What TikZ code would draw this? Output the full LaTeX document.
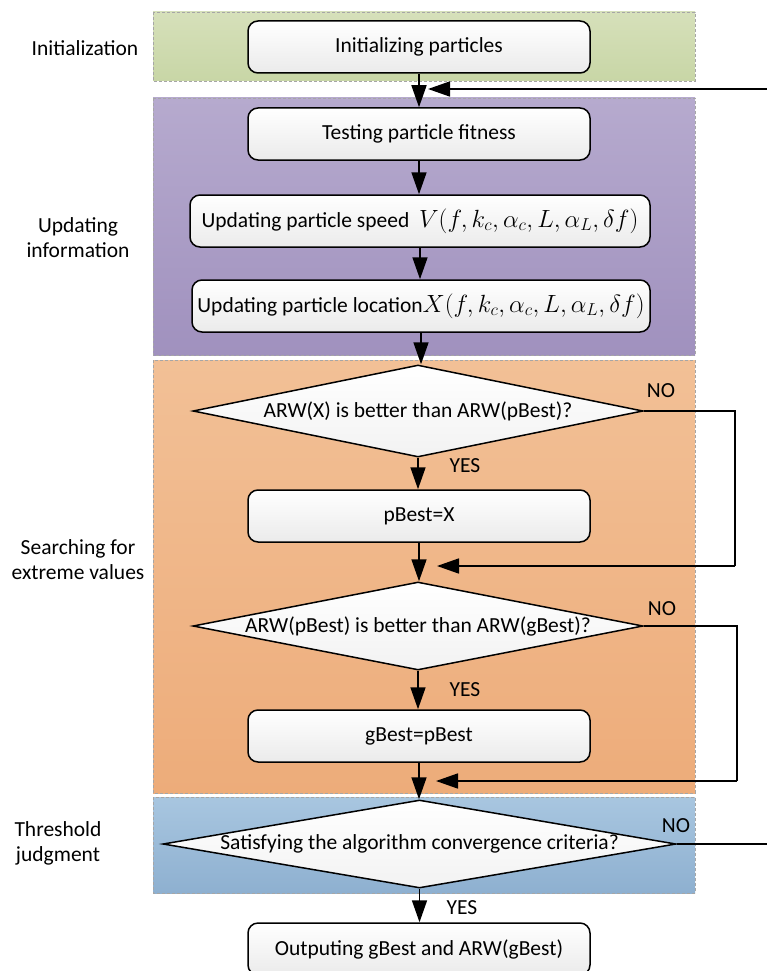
\documentclass[tikz,border=0pt]{standalone}
\usepackage{fontspec}
\setmainfont{Carlito}
\usetikzlibrary{shapes.geometric,arrows.meta}
\tikzset{
  fs/.style={font=\fontsize{21.5}{25}\selectfont},
  band/.style={draw=gray!70, dashed, dash pattern=on 3pt off 2pt, line width=0.8pt},
  rbox/.style={fs, rounded corners=10pt, draw, line width=1.5pt, top color=white, bottom color=gray!16, minimum height=52pt, inner sep=2pt},
  dia/.style={shape=diamond, draw, line width=1.5pt, top color=white, bottom color=gray!10, inner sep=0pt},
  arr/.style={line width=1.7pt, -{Triangle[length=22pt,width=15pt]}},
  ln/.style={line width=1.7pt},
  lab/.style={fs, align=center}
}
\begin{document}
\begin{tikzpicture}[x=1pt,y=-1pt]
\useasboundingbox (0,0) rectangle (767,971);
% bands
\shade[top color={rgb,255:red,214;green,224;blue,186}, bottom color={rgb,255:red,200;green,214;blue,166}] (153,12) rectangle (695,81);
\draw[band] (153,12) rectangle (695,81);
\shade[top color={rgb,255:red,182;green,170;blue,206}, bottom color={rgb,255:red,160;green,145;blue,190}] (153,98) rectangle (695,355);
\draw[band] (153,98) rectangle (695,355);
\shade[top color={rgb,255:red,242;green,192;blue,150}, bottom color={rgb,255:red,237;green,172;blue,122}] (153,360) rectangle (695,793);
\draw[band] (153,360) rectangle (695,793);
\shade[top color={rgb,255:red,168;green,198;blue,224}, bottom color={rgb,255:red,142;green,176;blue,208}] (153,797) rectangle (695,893);
\draw[band] (153,797) rectangle (695,893);
% side labels
\node[lab] (l1) at (85,48) {Initialization};
\node[lab] (l2) at (78,238) {Updating\\information};
\node[lab] (l3) at (78,560) {Searching for\\extreme values};
\node[lab] (l4) at (58,843) {Threshold\\judgment};
% boxes
\node[rbox, minimum width=342pt] (init) at (419,47) {Initializing particles};
\node[rbox, minimum width=342pt] (test) at (419,134) {Testing particle fitness};
\node[rbox, minimum width=460pt] (speed) at (420,221) {Updating particle speed\ \ {\fontsize{23}{25}\selectfont$V(f,k_c,\alpha_c,L,\alpha_L,\delta f)$}};
\node[rbox, minimum width=458pt] (loc) at (421,306) {Updating particle location{\fontsize{23}{25}\selectfont$X(f,k_c,\alpha_c,L,\alpha_L,\delta f)$}};
\node[dia, minimum width=450pt, minimum height=92pt] (d1) at (418,411) {};
\node[fs] (t1) at (d1) {ARW(X) is better than ARW(pBest)?};
\node[rbox, minimum width=342pt] (pb) at (419,516) {pBest=X};
\node[dia, minimum width=450pt, minimum height=88pt] (d2) at (418,626) {};
\node[fs] (t2) at (d2) {ARW(pBest) is better than ARW(gBest)?};
\node[rbox, minimum width=342pt] (gb) at (419,736) {gBest=pBest};
\node[dia, minimum width=513pt, minimum height=88pt] (d3) at (419.5,844) {};
\node[fs] (t3) at (d3) {Satisfying the algorithm convergence criteria?};
\node[rbox, minimum width=342pt] (out) at (419,949) {Outputing gBest and ARW(gBest)};
% connectors
\draw[arr] (init.south) -- (init.south |- test.north);
\draw[arr] (test.south) -- (test.south |- speed.north);
\draw[arr] (speed.south) -- (speed.south |- loc.north);
\draw[arr] (loc.south) -- (loc.south |- d1.north);
\draw[arr] (d1.south) -- (d1.south |- pb.north);
\draw[arr] (pb.south) -- (pb.south |- d2.north);
\draw[arr] (d2.south) -- (d2.south |- gb.north);
\draw[arr] (gb.south) -- (gb.south |- d3.north);
\draw[arr] (d3.south) -- (d3.south |- out.north);
% loops
\coordinate (e1) at (437,566);
\coordinate (e2) at (436,781);
\coordinate (e3) at (428,89);
\draw[ln] (d1.east) -- (735,411) -- (735,566) coordinate (c1);
\draw[arr] (c1) -- (e1);
\draw[ln] (d2.east) -- (737,626) -- (737,781) coordinate (c2);
\draw[arr] (c2) -- (e2);
\draw[ln] (d3.east) -- (769,844) -- (769,89) coordinate (c3);
\draw[arr] (c3) -- (e3);
% labels
\node[fs] (n1) at (661,391) {NO};
\node[fs] (n2) at (662,609) {NO};
\node[fs] (n3) at (676,826) {NO};
\node[fs] (y1) at (465,466) {YES};
\node[fs] (y2) at (465,690) {YES};
\node[fs] (y3) at (462,908) {YES};
\end{tikzpicture}
\end{document}
